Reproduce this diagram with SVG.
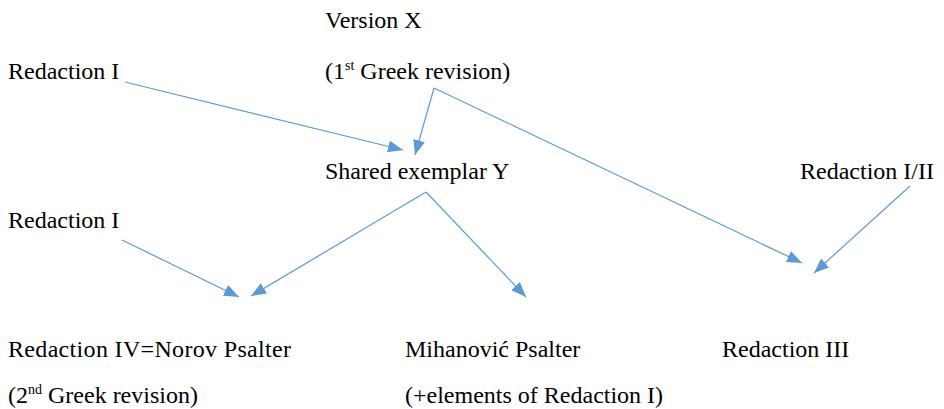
<svg xmlns="http://www.w3.org/2000/svg" width="944" height="409" viewBox="0 0 944 409">
<style>
.t text{font-family:"Liberation Serif",Tinos,"Times New Roman","Nimbus Roman","Noto Serif","DejaVu Serif",serif;font-size:24px;fill:#000}
.sup{font-size:14px}
.c line{stroke:#5B9BD5;stroke-width:1.2;fill:none}
</style>
<defs>
<marker id="ah" markerUnits="userSpaceOnUse" markerWidth="16" markerHeight="12" viewBox="0 0 16 12" refX="15" refY="6" orient="auto">
<path d="M0,0 L15,6 L0,12 Z" fill="#5B9BD5"/>
</marker>
</defs>
<rect width="944" height="409" fill="#fff"/>
<g class="t">
<g id="versionX"><text x="325" y="28">Version X</text><text x="325" y="79">(1<tspan class="sup" dy="-9">st</tspan><tspan dy="9"> Greek revision)</tspan></text></g>
<g id="redactionI-top"><text x="8" y="79">Redaction I</text></g>
<g id="sharedY"><text x="325" y="179">Shared exemplar Y</text></g>
<g id="redactionI-II"><text x="800" y="179">Redaction I/II</text></g>
<g id="redactionI-bottom"><text x="8" y="228">Redaction I</text></g>
<g id="redactionIV"><text x="8" y="357" textLength="283" lengthAdjust="spacing">Redaction IV=Norov Psalter</text><text x="8" y="403">(2<tspan class="sup" dy="-9">nd</tspan><tspan dy="9"> Greek revision)</tspan></text></g>
<g id="mihanovic"><text x="405" y="357">Mihanović Psalter</text><text x="405" y="403">(+elements of Redaction I)</text></g>
<g id="redactionIII"><text x="722" y="357">Redaction III</text></g>
</g>
<g class="c" id="connectors">
<line x1="125" y1="82" x2="403" y2="150" marker-end="url(#ah)"/>
<line x1="434" y1="88" x2="415" y2="155" marker-end="url(#ah)"/>
<line x1="434" y1="88" x2="802" y2="263" marker-end="url(#ah)"/>
<line x1="910" y1="186" x2="814" y2="273" marker-end="url(#ah)"/>
<line x1="426" y1="192" x2="251" y2="296" marker-end="url(#ah)"/>
<line x1="426" y1="192" x2="526" y2="297" marker-end="url(#ah)"/>
<line x1="122" y1="240" x2="239" y2="297" marker-end="url(#ah)"/>
</g>
</svg>
